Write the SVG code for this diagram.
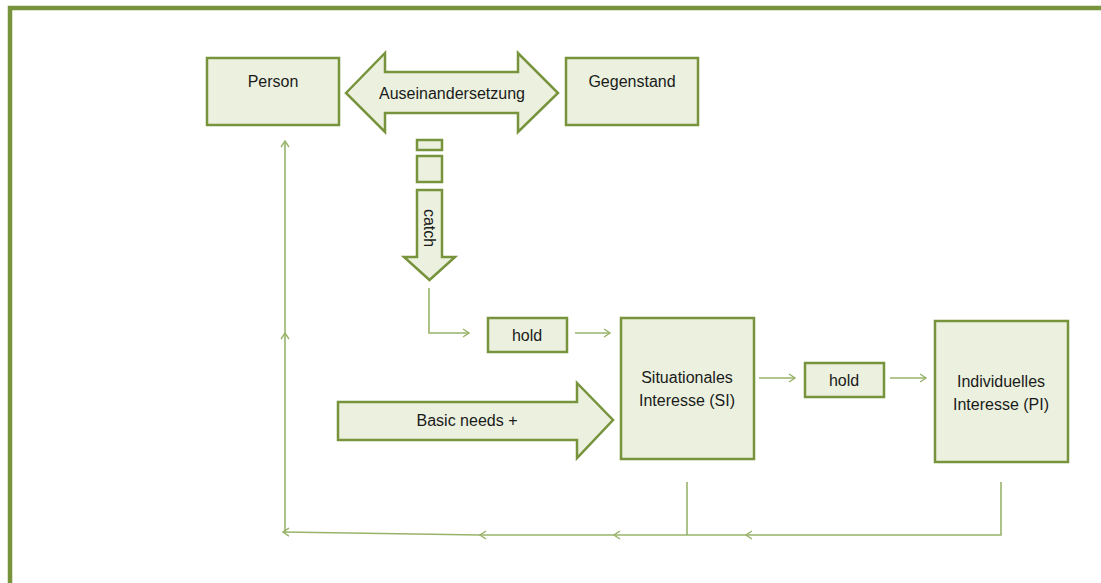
<svg xmlns="http://www.w3.org/2000/svg" width="1101" height="583" viewBox="0 0 1101 583">
  <defs>
    <style>
      .box { fill: #ebf1de; stroke: #77933c; stroke-width: 2.5; }
      .shape { fill: #ebf1de; stroke: #77933c; stroke-width: 2.5; stroke-linejoin: miter; }
      .lbl { font-family: "Liberation Sans", Arial, sans-serif; font-size: 16px; fill: #1a1a1a; text-anchor: middle; }
      .wire { fill: none; stroke: #98b36a; stroke-width: 1.6; }
    </style>
    <marker id="chev" viewBox="0 0 10 10" refX="9" refY="5" markerWidth="10" markerHeight="10" markerUnits="userSpaceOnUse" orient="auto">
      <path d="M3,1 L9,5 L3,9" fill="none" stroke="#98b36a" stroke-width="1.4"/>
    </marker>
  </defs>

  <rect width="1101" height="583" fill="#ffffff"/>

  <!-- frame: top and left rule -->
  <path d="M10,583 L10,8 L1101,8" fill="none" stroke="#77933c" stroke-width="4.5"/>

  <!-- connectors -->
  <g id="connectors">
    <path class="wire" d="M429,288 L429,333 L469,333" marker-end="url(#chev)"/>
    <path class="wire" d="M575,333 L610,333" marker-end="url(#chev)"/>
    <path class="wire" d="M759,378 L795,378" marker-end="url(#chev)"/>
    <path class="wire" d="M890,378 L926,378" marker-end="url(#chev)"/>
    <!-- feedback loop -->
    <path class="wire" d="M687,482 L687,535"/>
    <path class="wire" d="M1001,482 L1001,535 L746,535" marker-end="url(#chev)"/>
    <path class="wire" d="M746,535 L614,535" marker-end="url(#chev)"/>
    <path class="wire" d="M614,535 L480,535" marker-end="url(#chev)"/>
    <path class="wire" d="M480,535 L283,532" marker-end="url(#chev)"/>
    <path class="wire" d="M285,533 L285,333" marker-end="url(#chev)"/>
    <path class="wire" d="M285,333 L285,141" marker-end="url(#chev)"/>
  </g>

  <g id="person">
    <rect class="box" x="207" y="58" width="132" height="67"/>
    <text class="lbl" x="273" y="87">Person</text>
  </g>

  <g id="auseinandersetzung">
    <path class="shape" d="M346,93 L385,53 L385,72 L518,72 L518,53 L558,93 L518,132 L518,113 L385,113 L385,132 Z"/>
    <text class="lbl" x="452" y="99">Auseinandersetzung</text>
  </g>

  <g id="gegenstand">
    <rect class="box" x="566" y="58" width="132" height="67"/>
    <text class="lbl" x="632" y="87">Gegenstand</text>
  </g>

  <g id="catch">
    <rect class="box" x="417" y="140" width="25" height="10"/>
    <rect class="box" x="417" y="156" width="25" height="26"/>
    <path class="shape" d="M417,190 L442,190 L442,257 L455,257 L429.5,280 L404,257 L417,257 Z"/>
    <text class="lbl" transform="translate(424,228) rotate(90)">catch</text>
  </g>

  <g id="hold1">
    <rect class="box" x="488" y="318" width="79" height="34"/>
    <text class="lbl" x="527" y="341">hold</text>
  </g>

  <g id="basic-needs">
    <path class="shape" d="M338,402 L577,402 L577,383 L613,420 L577,458 L577,440 L338,440 Z"/>
    <text class="lbl" x="467" y="426">Basic needs +</text>
  </g>

  <g id="si">
    <rect class="box" x="621" y="318" width="133" height="141"/>
    <text class="lbl" x="687" y="383">Situationales</text>
    <text class="lbl" x="687" y="406">Interesse (SI)</text>
  </g>

  <g id="hold2">
    <rect class="box" x="805" y="363" width="79" height="34"/>
    <text class="lbl" x="844" y="386">hold</text>
  </g>

  <g id="pi">
    <rect class="box" x="935" y="321" width="133" height="141"/>
    <text class="lbl" x="1001" y="387">Individuelles</text>
    <text class="lbl" x="1001" y="410">Interesse (PI)</text>
  </g>
</svg>
